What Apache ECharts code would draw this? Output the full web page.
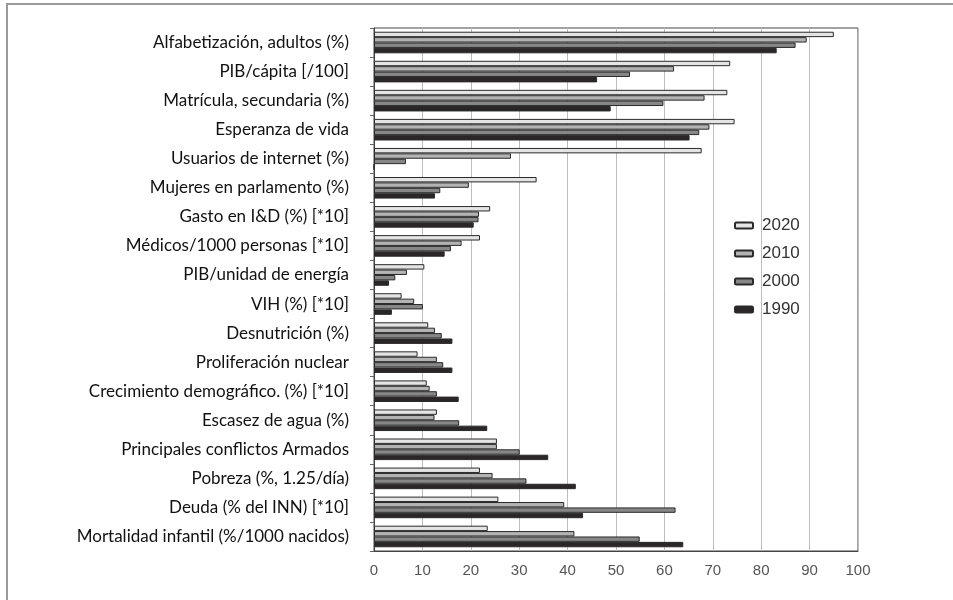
<!DOCTYPE html>
<html>
<head>
<meta charset="utf-8">
<script src="https://cdn.jsdelivr.net/npm/echarts@6/dist/echarts.min.js"></script>
<style>
html,body{margin:0;padding:0;background:#fff;}
#chart{width:953px;height:600px;}
</style>
</head>
<body>
<div id="chart"></div>
<script>
const categories = [
  "Alfabetización, adultos (%)",
  "PIB/cápita [/100]",
  "Matrícula, secundaria (%)",
  "Esperanza de vida",
  "Usuarios de internet (%)",
  "Mujeres en parlamento (%)",
  "Gasto en I&D (%) [*10]",
  "Médicos/1000 personas [*10]",
  "PIB/unidad de energía",
  "VIH (%) [*10]",
  "Desnutrición (%)",
  "Proliferación nuclear",
  "Crecimiento demográfico. (%) [*10]",
  "Escasez de agua (%)",
  "Principales conflictos Armados",
  "Pobreza (%, 1.25/día)",
  "Deuda (% del INN) [*10]",
  "Mortalidad infantil (%/1000 nacidos)"
];
const years = ["2020", "2010", "2000", "1990"];
const v2020 = [95.0, 73.6, 73.0, 74.5, 67.7, 33.6, 24.0, 21.9, 10.4, 5.7, 11.2, 9.0, 10.9, 13.0, 25.4, 21.9, 25.7, 23.5];
const v2010 = [89.4, 62.0, 68.3, 69.3, 28.3, 19.6, 21.7, 18.1, 6.8, 8.3, 12.6, 13.0, 11.5, 12.5, 25.4, 24.5, 39.3, 41.4];
const v2000 = [87.1, 52.9, 59.8, 67.2, 6.6, 13.7, 21.6, 15.9, 4.4, 10.1, 14.0, 14.3, 13.0, 17.6, 30.1, 31.5, 62.3, 54.9];
const v1990 = [83.2, 46.1, 48.9, 65.2, 0, 12.6, 20.6, 14.6, 3.1, 3.7, 16.2, 16.2, 17.5, 23.4, 36.0, 41.7, 43.2, 63.9];
const xTicks = [0, 10, 20, 30, 40, 50, 60, 70, 80, 90, 100];

const seriesData = [v2020, v2010, v2000, v1990];
const fills = ["#e4e4e4", "#b3b3b3", "#878787", "#2b2627"];

const chart = echarts.init(document.getElementById('chart'), null, {renderer: 'canvas'});
const option = {
  backgroundColor: '#ffffff',
  animation: false,
  graphic: [
    {type: 'line', shape: {x1: 6, y1: 4, x2: 953, y2: 4}, style: {stroke: '#9a9a9a', lineWidth: 2}},
    {type: 'line', shape: {x1: 7, y1: 4, x2: 7, y2: 600}, style: {stroke: '#9a9a9a', lineWidth: 2}}
  ],
  grid: {left: 374, right: 95, top: 28, bottom: 49, show: true, borderColor: '#444', borderWidth: 1, backgroundColor: 'transparent'},
  legend: {
    orient: 'vertical',
    left: 729,
    top: 212,
    itemWidth: 18,
    itemHeight: 6,
    itemGap: 11,
    icon: 'roundRect',
    data: years,
    textStyle: {fontFamily: 'Liberation Sans, Arial', fontSize: 17, color: '#333', padding: [0, 0, 0, 4]}
  },
  xAxis: {
    type: 'value',
    min: 0, max: 100, interval: 10,
    axisLine: {show: true, lineStyle: {color: '#444'}},
    axisTick: {show: false},
    splitLine: {show: true, lineStyle: {color: '#bdbdbd', width: 1}},
    axisLabel: {fontFamily: 'Liberation Sans, Arial', fontSize: 15, color: '#555', margin: 12,
      formatter: function(v){ return xTicks.indexOf(v) >= 0 ? String(v) : ''; }}
  },
  yAxis: {
    type: 'category',
    inverse: true,
    data: categories,
    axisLine: {show: true, lineStyle: {color: '#444'}},
    axisTick: {show: true, length: 4, lineStyle: {color: '#666'}},
    axisLabel: {fontFamily: 'Lato, Carlito, Calibri, sans-serif', fontSize: 17, color: '#111', margin: 25}
  },
  series: years.map((y, i) => ({
    name: y,
    type: 'bar',
    data: seriesData[i],
    barWidth: 5.4,
    barGap: '0%',
    itemStyle: {color: fills[i], borderColor: '#2a2a2a', borderWidth: 1}
  }))
};
chart.setOption(option);
</script>
</body>
</html>
